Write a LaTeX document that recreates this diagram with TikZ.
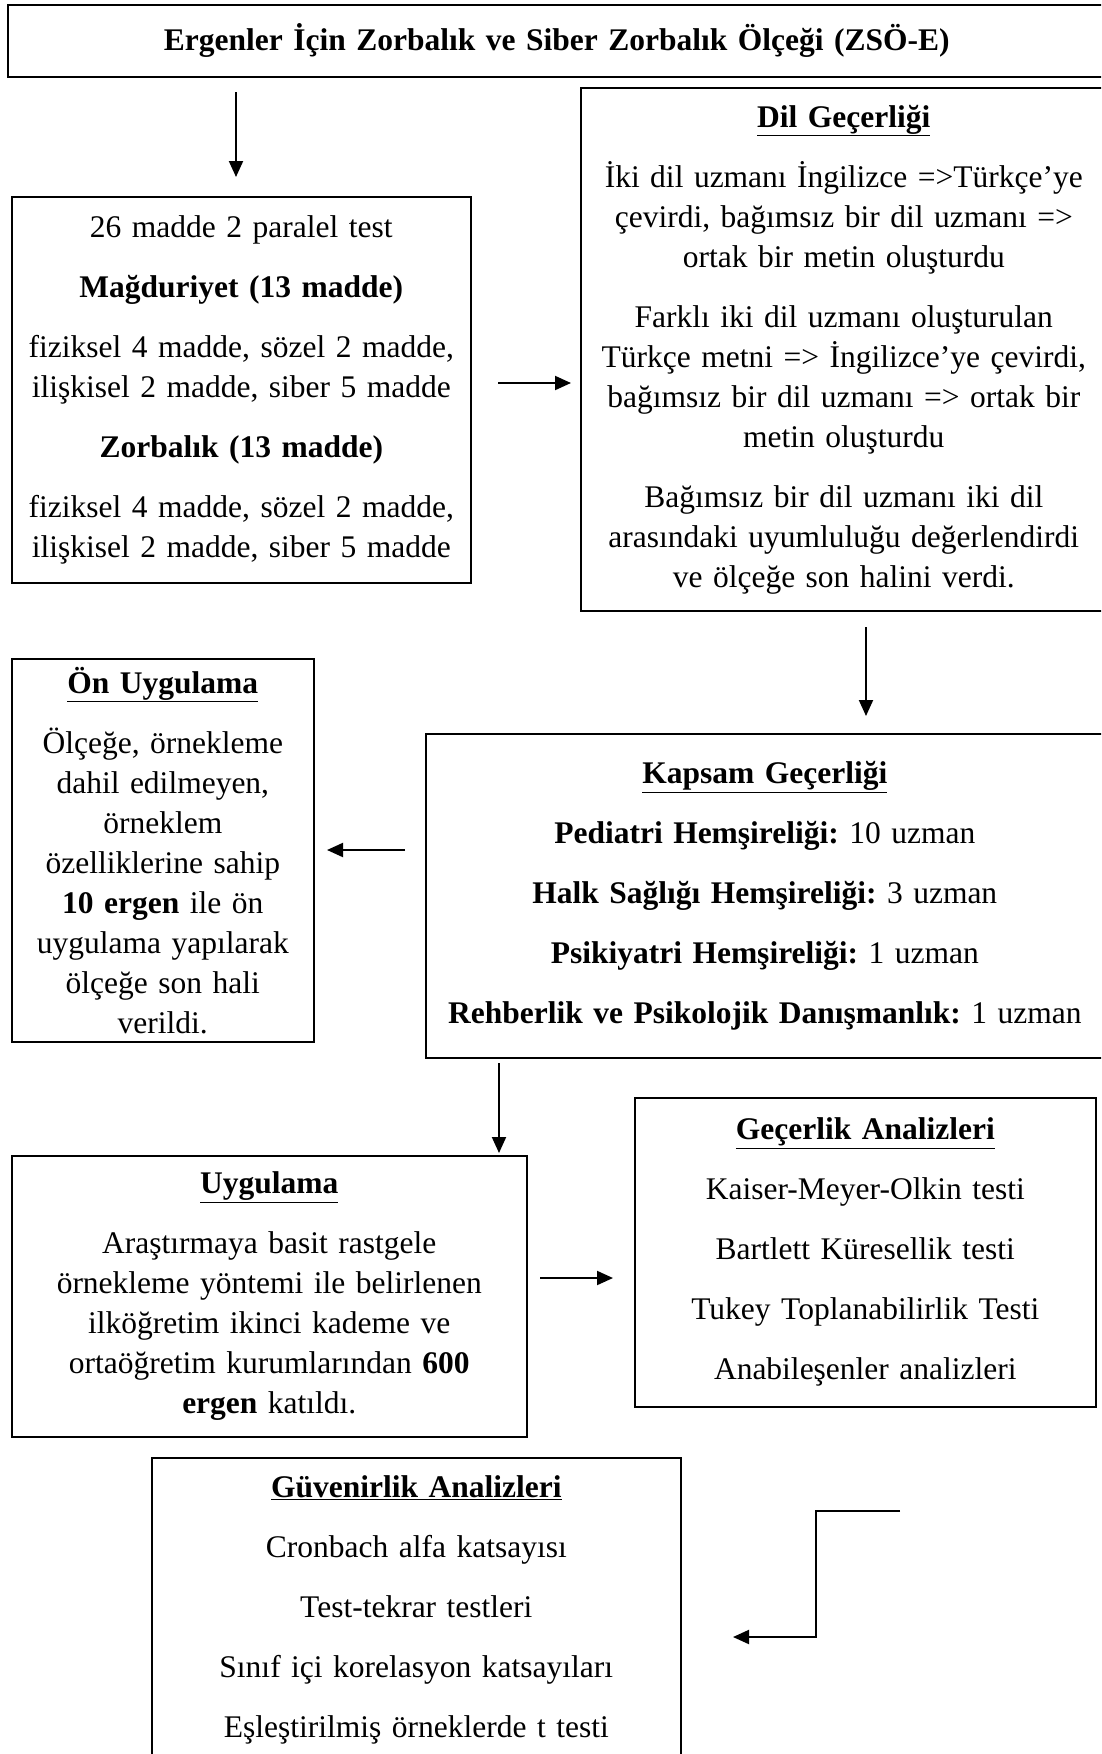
\documentclass[tikz,border=0pt]{standalone}
\usepackage{fontspec}
\setmainfont{Liberation Serif}
\usetikzlibrary{arrows.meta}
\tikzset{
  x=1pt, y=-1pt,
  box/.style={draw, line width=1.6pt, anchor=north west, align=center, inner sep=0pt,
    font=\fontsize{31.5}{40}\selectfont\frenchspacing},
  arr/.style={-{Triangle[length=16pt,width=14pt]}, line width=2pt},
}
\newcommand{\hd}[1]{\underline{\textbf{#1}}}
\begin{document}
\frenchspacing
\begin{tikzpicture}
\useasboundingbox (0,0) rectangle (1101,1754);
\clip (0,0) rectangle (1101,1754);

% boxes
\node[box, minimum width=1098pt, minimum height=72pt, text width=1080pt] (title) at (7,4)
  {\textbf{Ergenler İçin Zorbalık ve Siber Zorbalık Ölçeği (ZSÖ-E)}};

\node[box, minimum width=459pt, minimum height=386pt, text width=450pt] (test) at (11,196)
  {26 madde 2 paralel test\\[20pt]
   \textbf{Mağduriyet (13 madde)}\\[20pt]
   fiziksel 4 madde, sözel 2 madde,\\
   ilişkisel 2 madde, siber 5 madde\\[20pt]
   \textbf{Zorbalık (13 madde)}\\[20pt]
   fiziksel 4 madde, sözel 2 madde,\\
   ilişkisel 2 madde, siber 5 madde};

\node[box, minimum width=526pt, minimum height=523pt, text width=516pt] (dil) at (580,87)
  {\hd{Dil Geçerliği}\\[20pt]
   İki dil uzmanı İngilizce =>Türkçe’ye\\
   çevirdi, bağımsız bir dil uzmanı =>\\
   ortak bir metin oluşturdu\\[20pt]
   Farklı iki dil uzmanı oluşturulan\\
   Türkçe metni => İngilizce’ye çevirdi,\\
   bağımsız bir dil uzmanı => ortak bir\\
   metin oluşturdu\\[20pt]
   Bağımsız bir dil uzmanı iki dil\\
   arasındaki uyumluluğu değerlendirdi\\
   ve ölçeğe son halini verdi.};

\node[box, minimum width=302pt, minimum height=383pt, text width=296pt] (on) at (11,658)
  {\hd{Ön Uygulama}\\[20pt]
   Ölçeğe, örnekleme\\
   dahil edilmeyen,\\
   örneklem\\
   özelliklerine sahip\\
   \textbf{10 ergen} ile ön\\
   uygulama yapılarak\\
   ölçeğe son hali\\
   verildi.};

\node[box, minimum width=678pt, minimum height=324pt, text width=670pt] (kap) at (425,733)
  {\hd{Kapsam Geçerliği}\\[20pt]
   \textbf{Pediatri Hemşireliği:} 10 uzman\\[20pt]
   \textbf{Halk Sağlığı Hemşireliği:} 3 uzman\\[20pt]
   \textbf{Psikiyatri Hemşireliği:} 1 uzman\\[20pt]
   \textbf{Rehberlik ve Psikolojik Danışmanlık:} 1 uzman};

\node[box, minimum width=515pt, minimum height=281pt, text width=505pt] (uyg) at (11,1155)
  {\hd{Uygulama}\\[20pt]
   Araştırmaya basit rastgele\\
   örnekleme yöntemi ile belirlenen\\
   ilköğretim ikinci kademe ve\\
   ortaöğretim kurumlarından \textbf{600}\\
   \textbf{ergen} katıldı.};

\node[box, minimum width=461pt, minimum height=309pt, text width=451pt] (gec) at (634,1097)
  {\hd{Geçerlik Analizleri}\\[20pt]
   Kaiser-Meyer-Olkin testi\\[20pt]
   Bartlett Küresellik testi\\[20pt]
   Tukey Toplanabilirlik Testi\\[20pt]
   Anabileşenler analizleri};

\node[box, minimum width=529pt, minimum height=305pt, text width=519pt] (guv) at (151,1457)
  {\hd{Güvenirlik Analizleri}\\[20pt]
   Cronbach alfa katsayısı\\[20pt]
   Test-tekrar testleri\\[20pt]
   Sınıf içi korelasyon katsayıları\\[20pt]
   Eşleştirilmiş örneklerde t testi};

% connector end points
\coordinate (a1s) at (236,92);   \coordinate (a1e) at (236,177);
\coordinate (a2s) at (498,383);  \coordinate (a2e) at (571,383);
\coordinate (a3s) at (866,627);  \coordinate (a3e) at (866,716);
\coordinate (a4s) at (405,850);  \coordinate (a4e) at (327,850);
\coordinate (a5s) at (499,1063); \coordinate (a5e) at (499,1153);
\coordinate (a6s) at (540,1278); \coordinate (a6e) at (613,1278);
\coordinate (s1) at (900,1511);  \coordinate (sb) at (816,1511);
\coordinate (s2) at (733,1637);

\draw[arr] (a1s) -- (a1e);
\draw[arr] (a2s) -- (a2e);
\draw[arr] (a3s) -- (a3e);
\draw[arr] (a4s) -- (a4e);
\draw[arr] (a5s) -- (a5e);
\draw[arr] (a6s) -- (a6e);
\draw[arr] (s1) -- (sb) |- (s2);
\end{tikzpicture}
\end{document}
